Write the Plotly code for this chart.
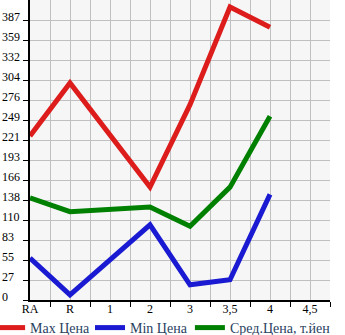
import plotly.graph_objects as go

categories = ["RA", "R", "1", "2", "3", "3,5", "4", "4,5"]
max_price = [226.6, 300, None, 156, 270, 405, 377, None]
min_price = [58, 7, None, 104, 21, 28, 146, None]
avg_price = [141, 122, None, 128.5, 102, 156, 254, None]
y_labels = ["0", "27", "55", "83", "110", "138", "166", "193", "221", "249",
            "276", "304", "332", "359", "387"]
y_step = 27.64

series = [
    ("Max Цена", max_price, "#dd1c1c", "legend", -0.133),
    ("Min Цена", min_price, "#1a1ad2", "legend2", 0.2),
    ("Сред.Цена, т.йен", avg_price, "#008000", "legend3", 0.533),
]

xpos = list(range(len(categories)))
fig = go.Figure()
legends = {}
for name, vals, col, lg, lx in series:
    xs = [x for x, v in zip(xpos, vals) if v is not None]
    ys = [v for v in vals if v is not None]
    fig.add_trace(go.Scatter(x=xs, y=ys, mode="lines", name=name, legend=lg,
                             line=dict(color=col, width=5)))
    legends[lg] = dict(orientation="h", x=lx, xanchor="left", y=-0.04, yanchor="top",
                       font=dict(family="Liberation Serif", size=14),
                       itemwidth=30, bgcolor="rgba(0,0,0,0)")

yvals = [i * y_step for i in range(len(y_labels))]
annotations = []
for v, t in zip(yvals, y_labels):
    annotations.append(dict(x=0, xref="paper", xanchor="left", xshift=-30,
                            y=v, yref="y", yanchor="middle", yshift=3,
                            text=t, showarrow=False,
                            font=dict(family="Liberation Serif", size=12, color="#000")))

fig.update_layout(
    width=345, height=335,
    margin=dict(l=30, r=15, t=0, b=35, autoexpand=False),
    paper_bgcolor="white", plot_bgcolor="#f6f6f6",
    showlegend=True,
    annotations=annotations,
    **legends,
)
fig.update_xaxes(range=[0, 7.5], tickvals=xpos, ticktext=categories,
                 ticks="", showgrid=True, gridcolor="#c0c0c0", gridwidth=1,
                 showline=True, linecolor="black", linewidth=2,
                 zeroline=False, ticklabelstandoff=-3,
                 tickfont=dict(family="Liberation Serif", size=12, color="#000"),
                 minor=dict(tickvals=[i + 0.5 for i in xpos], ticks="outside",
                            ticklen=5, tickcolor="black", tickwidth=1,
                            showgrid=True, gridcolor="#c0c0c0", gridwidth=1))
fig.update_yaxes(range=[0, 15 * y_step], tickvals=yvals, showticklabels=False,
                 ticks="outside", ticklen=5, tickcolor="black",
                 showgrid=True, gridcolor="#c0c0c0", gridwidth=1,
                 showline=True, linecolor="black", linewidth=2, zeroline=False)

fig.write_html("out.html")
